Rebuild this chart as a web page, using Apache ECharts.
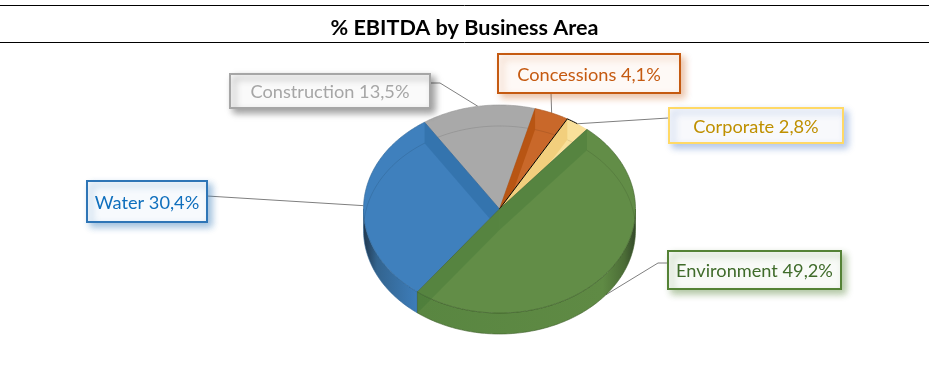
<!DOCTYPE html>
<html>
<head>
<meta charset="utf-8">
<style>
  html, body { margin: 0; padding: 0; background: #fff; }
  #chart { width: 929px; height: 380px; }
</style>
<script src="https://cdn.jsdelivr.net/npm/echarts@6/dist/echarts.min.js"></script>
</head>
<body>
<div id="chart"></div>
<script>
// Chart data
const categories = ['Environment', 'Water', 'Construction', 'Concessions', 'Corporate'];
const values = [49.2, 30.4, 13.5, 4.1, 2.8];

// Slice colours, same order as categories
const topColors = ['#628d47', '#3f80bd', '#a9a9a9', '#c9682a', '#f9e09a'];
const edgeColors = ['#3f5f2c', '#2f6496', '#979797', '#a9561f', '#000000'];
const textColors = ['#3f6b2a', '#0f6fbd', '#a6a6a6', '#c55a11', '#bf9000'];
const borderColors = ['#548235', '#2e75b6', '#a6a6a6', '#c55a11', '#ffd966'];
const boxColors = ['#f8faf7', '#f7fafd', '#fafafa', '#fef9f6', '#f8f9fc'];
const shadowColors = ['rgba(84,130,53,.45)', 'rgba(46,117,182,.45)', 'rgba(0,0,0,.38)', 'rgba(197,90,17,.35)', 'rgba(68,114,196,.4)'];
const stripColors = ['rgba(40,100,40,.2)', 'rgba(20,80,130,.24)', 'rgba(0,0,0,0)', 'rgba(170,70,0,.55)', 'rgba(225,170,60,.3)'];
const wallStops = [
    [[0, '#598641'], [0.85, '#5f8a44'], [0.95, '#4b6c36'], [1, '#34492a']],
    [[0, '#20384f'], [0.25, '#33648f'], [1, '#3d7dba']],
    [[0, '#999'], [1, '#999']],
    [[0, '#b85c1c'], [1, '#b85c1c']],
    [[0, '#e8cf87'], [1, '#e8cf87']]
];

// Label boxes [x, y, w, h], knee of the leader line is optional
const labelBoxes = [[668, 251, 173, 38], [87, 181, 120, 41], [230, 74, 200, 34], [498, 54, 182, 39], [669, 108, 174, 35]];
const leaderStarts = [[667, 263], [207, 196], [430, 83], [551, 93], [668, 118]];
const leaderKnees = [[658, 263], null, [440, 83], null, null];

// Pie geometry in pixels
const cx = 499.5, cy = 209, rx = 136, ry = 104, depth = 21;
const startAngle = 40;

// Back to front, so that each top face covers what spills from the one before
const drawOrder = [2, 1, 3, 4, 0];

const total = values.reduce((a, b) => a + b, 0);
const angles = [];
let acc = startAngle;
values.forEach(v => {
    angles.push([acc, acc + v / total * 360]);
    acc += v / total * 360;
});

function pt(deg, dy) {
    const r = deg * Math.PI / 180;
    return [cx + rx * Math.sin(r), cy - ry * Math.cos(r) + (dy || 0)];
}

function arc(a0, a1, dy) {
    const pts = [];
    const n = Math.max(2, Math.ceil(Math.abs(a1 - a0)));
    for (let i = 0; i <= n; i++) {
        pts.push(pt(a0 + (a1 - a0) * i / n, dy));
    }
    return pts;
}

function inFront(a) {
    const d = ((a % 360) + 360) % 360;
    return d > 90 && d < 270;
}

function renderSlice(params) {
    const idx = drawOrder[params.dataIndex];
    const a0 = angles[idx][0], a1 = angles[idx][1];
    const children = [];

    // Outer wall, only the front half of the rim shows
    const w0 = Math.max(a0, 90), w1 = Math.min(a1, 270);
    if (w1 > w0) {
        const upper = arc(w0, w1, 0), lower = arc(w1, w0, depth);
        const xs = upper.map(p => p[0]);
        children.push({
            type: 'polygon',
            shape: {points: upper.concat(lower)},
            style: {
                fill: new echarts.graphic.LinearGradient(Math.min(...xs), 0, Math.max(...xs), 0,
                    wallStops[idx].map(s => ({offset: s[0], color: s[1]})), true),
                stroke: edgeColors[idx],
                lineWidth: 0.6
            }
        });
    }

    // Top face
    children.push({
        type: 'polygon',
        shape: {points: [[cx, cy]].concat(arc(a0, a1, 0))},
        style: {fill: topColors[idx], stroke: edgeColors[idx], lineWidth: idx === 4 ? 0 : 0.6}
    });

    // Inner walls seen through the top face
    [[a0, a0 % 360 < 180], [a1, a1 % 360 >= 180]].forEach(e => {
        if (!e[1]) return;
        const p = pt(e[0], 0), q = pt(e[0], depth);
        children.push({
            type: 'polygon',
            shape: {points: [[cx, cy], p, q, [cx, cy + depth]]},
            style: {fill: stripColors[idx]}
        });
    });

    // Far edge of the floor, faint through the top face
    const ghost = [];
    arc(a0, a1, depth).forEach((p, i, list) => {
        const a = a0 + (a1 - a0) * i / (list.length - 1);
        if (!inFront(a)) ghost.push(p);
    });
    if (ghost.length > 1) {
        children.push({
            type: 'polyline',
            shape: {points: ghost},
            style: {fill: null, stroke: 'rgba(0,0,0,.1)', lineWidth: 1}
        });
    }

    // Corporate has a black edge on its left
    if (idx === 4) {
        children.push({
            type: 'polyline',
            shape: {points: [[cx, cy]].concat(arc(a0, a0 + 5, 0))},
            style: {fill: null, stroke: '#000', lineWidth: 1}
        });
    }
    return {type: 'group', children: children};
}

function renderLeader(params) {
    const idx = params.dataIndex;
    const mid = (angles[idx][0] + angles[idx][1]) / 2;
    const pts = [leaderStarts[idx]];
    if (leaderKnees[idx]) pts.push(leaderKnees[idx]);
    pts.push(pt(mid, inFront(mid) ? depth : 0));
    return {
        type: 'polyline',
        shape: {points: pts},
        style: {fill: null, stroke: '#7f7f7f', lineWidth: 1}
    };
}

function renderLabel(params, api) {
    const idx = params.dataIndex;
    const b = labelBoxes[idx];
    const text = categories[idx] + ' ' + api.value(0).toFixed(1).replace('.', ',') + '%';
    return {
        type: 'group',
        children: [{
            type: 'rect',
            shape: {x: b[0], y: b[1], width: b[2], height: b[3]},
            style: {
                fill: boxColors[idx],
                stroke: borderColors[idx],
                lineWidth: 2,
                shadowBlur: 7,
                shadowOffsetX: 4,
                shadowOffsetY: 4,
                shadowColor: shadowColors[idx]
            }
        }, {
            type: 'text',
            style: {
                x: b[0] + b[2] / 2,
                y: b[1] + b[3] / 2 + 1.5,
                text: text,
                fill: textColors[idx],
                font: '18.2px Lato',
                align: 'center',
                verticalAlign: 'middle'
            }
        }]
    };
}

const myChart = echarts.init(document.getElementById('chart'));

const option = {
    animation: false,
    title: {
        text: '% EBITDA by Business Area',
        left: 'center',
        top: 12,
        textStyle: {fontFamily: 'Lato', fontWeight: 'bold', fontSize: 21.6, color: '#000'}
    },
    graphic: [
        {type: 'line', shape: {x1: 0, y1: 5.5, x2: 929, y2: 5.5}, style: {stroke: '#000', lineWidth: 1}},
        {type: 'line', shape: {x1: 0, y1: 42.5, x2: 929, y2: 42.5}, style: {stroke: '#000', lineWidth: 1}}
    ],
    series: [
        {
            type: 'custom',
            coordinateSystem: 'none',
            silent: true,
            z: 1,
            renderItem: renderLeader,
            data: values
        },
        {
            type: 'custom',
            coordinateSystem: 'none',
            silent: true,
            z: 2,
            renderItem: renderSlice,
            data: drawOrder.map(i => values[i])
        },
        {
            type: 'custom',
            coordinateSystem: 'none',
            silent: true,
            z: 3,
            renderItem: renderLabel,
            data: values
        }
    ]
};

myChart.setOption(option);
</script>
</body>
</html>
